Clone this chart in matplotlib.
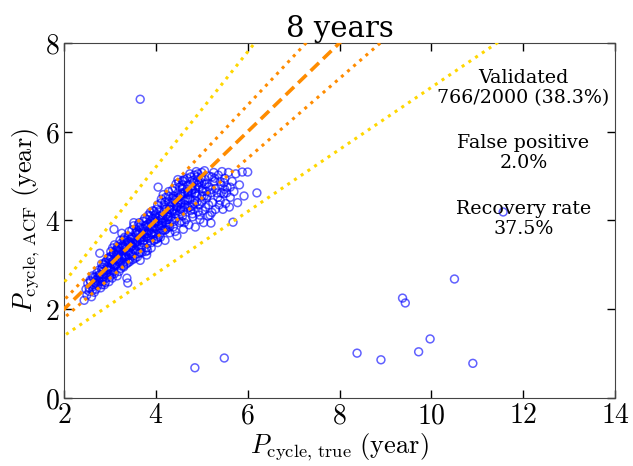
import matplotlib
matplotlib.use("Agg")
import numpy as np
import matplotlib.pyplot as plt

plt.rcParams['font.family'] = 'DejaVu Serif'
plt.rcParams['mathtext.fontset'] = 'cm'

# main cloud of validated detections
cloud_x = [2.44, 2.48, 2.50, 2.52, 2.55, 2.57, 2.60, 2.62, 2.64, 2.66,
           2.68, 2.70, 2.72, 2.74, 2.76, 2.78, 2.80, 2.82, 2.84, 2.86,
           2.88, 2.90, 2.92, 2.94, 2.96, 2.98, 3.00, 3.02, 3.04, 3.06,
           3.08, 3.09, 3.10, 3.12, 3.14, 3.16, 3.18, 3.20, 3.22, 3.24,
           3.26, 3.26, 3.28, 3.30, 3.32, 3.34, 3.36, 3.37, 3.38, 3.39,
           3.40, 3.42, 3.44, 3.46, 3.48, 3.50, 3.52, 3.54, 3.56, 3.58,
           3.60, 3.62, 3.64, 3.66, 3.68, 3.70, 3.72, 3.74, 3.76, 3.78,
           3.80, 3.82, 3.84, 3.86, 3.88, 3.90, 3.92, 3.94, 3.96, 3.98,
           4.00, 4.02, 4.04, 4.05, 4.06, 4.08, 4.10, 4.12, 4.14, 4.16,
           4.18, 4.20, 4.22, 4.24, 4.26, 4.28, 4.30, 4.32, 4.34, 4.36,
           4.38, 4.40, 4.42, 4.44, 4.46, 4.48, 4.50, 4.52, 4.54, 4.56,
           4.58, 4.60, 4.62, 4.64, 4.66, 4.68, 4.70, 4.72, 4.74, 4.76,
           4.78, 4.80, 4.82, 4.84, 4.86, 4.88, 4.90, 4.92, 4.94, 4.96,
           4.98, 5.00, 5.02, 5.04, 5.06, 5.08, 5.10, 5.12, 5.14, 5.16,
           5.18, 5.20, 5.22, 5.24, 5.26, 5.28, 5.30, 5.33, 5.36, 5.40,
           5.42, 5.44, 5.46, 5.48, 5.50, 5.52, 5.55, 5.58, 5.62, 5.66,
           5.68, 5.70, 5.74, 5.78, 5.82, 5.88, 5.92, 6.00, 6.20, 5.60,
           2.75, 2.85, 2.95, 3.05, 3.15, 3.25, 3.35, 3.45, 3.55, 3.65,
           3.75, 3.85, 3.95, 4.05, 4.15, 4.25, 4.35, 4.45, 4.55, 4.65,
           2.65, 2.80, 2.92, 3.02, 3.12, 3.22, 3.32, 3.42, 3.52, 3.62,
           3.72, 3.82, 3.92, 4.02, 4.12, 4.22, 4.32, 4.42, 4.52, 4.62,
           2.58, 2.72, 2.88, 2.98, 3.08, 3.18, 3.28, 3.38, 3.48, 3.58,
           3.68, 3.78, 3.88, 3.98, 4.08, 4.18, 4.28, 4.38, 4.48, 4.58,
           4.70, 4.80, 4.90, 5.00, 5.10, 4.75, 4.85, 4.95, 5.05, 5.15,
           3.05, 3.30, 3.55, 3.80, 4.05, 4.30, 4.55, 4.80, 3.15, 3.45,
           2.55, 2.62, 2.70, 2.78, 2.86, 2.94, 3.02, 3.10, 3.18, 3.26,
           3.34, 3.42, 3.50, 3.58, 3.66, 3.74, 3.82, 3.90, 3.98, 4.06,
           4.14, 4.22, 4.30, 4.38, 4.46, 4.54, 4.62, 4.70, 4.78, 4.86,
           2.68, 2.76, 2.84, 2.92, 3.00, 3.08, 3.16, 3.24, 3.32, 3.40,
           3.48, 3.56, 3.64, 3.72, 3.80, 3.88, 3.96, 4.04, 4.12, 4.20,
           4.28, 4.36, 4.44, 4.52, 4.60, 4.68, 4.76, 4.84, 4.92, 5.00,
           2.90, 3.00, 3.10, 3.20, 3.30, 3.40, 3.50, 3.60, 3.70, 3.80,
           3.90, 4.00, 4.10, 4.20, 4.30, 4.40, 4.50, 4.60, 4.70, 4.80,
           4.90, 5.00, 5.10, 5.20, 5.30, 5.40, 5.50, 4.95, 5.15, 5.35,
           3.00, 3.20, 3.40, 3.60, 3.80, 4.00, 4.20, 4.40, 4.60, 4.80,
           3.10, 3.30, 3.50, 3.70, 3.90, 4.10, 4.30, 4.50, 4.70, 4.90,
           2.62, 2.82, 3.02, 3.22, 3.42, 3.62, 3.82, 4.02, 4.22, 4.42,
           4.62, 4.82, 5.02, 5.22, 5.42, 5.62, 5.28, 5.48, 5.08, 4.58,
           2.70, 2.78, 2.86, 2.94, 3.02, 3.10, 3.18, 3.26, 3.34, 3.42,
           3.50, 3.58, 3.66, 3.74, 3.82, 3.90, 3.98, 4.06, 4.14, 4.22,
           4.30, 4.38, 4.46, 4.54, 4.62, 4.70, 4.78, 4.86, 4.94, 5.02,
           2.82, 2.98, 3.14, 3.30, 3.46, 3.62, 3.78, 3.94, 4.10, 4.26,
           4.42, 4.58, 4.74, 4.90, 5.06, 5.22, 5.38, 5.54, 3.06, 3.36,
           3.66, 3.96, 4.26, 4.56, 4.86, 3.20, 3.52, 3.84, 4.16, 4.48]
cloud_y = [2.20, 2.45, 2.32, 2.58, 2.40, 2.65, 2.28, 2.50, 2.72, 2.38,
           2.60, 2.45, 2.82, 2.55, 2.70, 3.26, 2.48, 2.90, 2.62, 2.78,
           2.55, 3.05, 2.70, 2.88, 3.15, 2.62, 2.95, 3.30, 2.78, 3.08,
           2.85, 3.80, 3.45, 3.00, 3.22, 2.75, 3.38, 3.10, 3.55, 2.92,
           3.25, 3.71, 3.45, 3.05, 3.62, 3.35, 3.18, 2.70, 3.50, 2.59,
           3.30, 3.75, 3.08, 3.58, 3.42, 3.20, 3.88, 3.48, 3.32, 3.68,
           3.52, 3.25, 3.95, 3.10, 3.62, 3.40, 3.82, 3.55, 4.05, 3.30,
           3.70, 3.48, 3.92, 3.60, 4.18, 3.38, 3.80, 4.05, 3.55, 3.95,
           3.70, 4.25, 3.50, 4.75, 3.88, 4.10, 3.62, 4.40, 3.95, 3.78,
           4.20, 3.55, 4.52, 3.90, 4.08, 4.65, 3.72, 4.30, 4.00, 4.50,
           3.85, 4.20, 4.72, 4.05, 3.65, 4.40, 4.85, 3.95, 4.25, 4.60,
           4.10, 3.80, 4.92, 4.35, 4.02, 4.70, 4.50, 3.90, 5.05, 4.22,
           4.62, 4.08, 4.85, 4.38, 3.85, 5.10, 4.55, 4.20, 4.75, 4.02,
           4.95, 4.42, 4.65, 3.95, 5.12, 4.30, 4.82, 4.55, 4.10, 5.00,
           4.12, 3.94, 4.70, 4.40, 5.08, 4.88, 4.25, 4.62, 5.02, 4.45,
           4.80, 5.10, 4.25, 4.60, 4.95, 4.38, 4.75, 5.08, 4.52, 4.88,
           3.96, 4.65, 5.05, 4.40, 4.80, 5.09, 4.55, 5.09, 4.62, 4.30,
           2.75, 2.85, 2.90, 3.02, 3.12, 3.18, 3.30, 3.40, 3.50, 3.60,
           3.68, 3.78, 3.85, 3.98, 4.05, 4.15, 4.22, 4.32, 4.40, 4.48,
           2.55, 2.68, 2.80, 2.88, 2.98, 3.05, 3.15, 3.22, 3.35, 3.42,
           3.50, 3.60, 3.68, 3.80, 3.88, 3.95, 4.08, 4.15, 4.20, 4.30,
           2.62, 2.68, 3.00, 3.12, 3.25, 3.32, 3.42, 3.55, 3.62, 3.78,
           3.82, 3.88, 3.98, 4.12, 4.22, 4.35, 4.42, 4.55, 4.62, 4.72,
           4.80, 4.70, 4.90, 4.85, 4.65, 4.30, 4.45, 4.35, 4.55, 4.75,
           2.70, 2.95, 3.15, 3.38, 3.62, 3.85, 3.98, 4.15, 3.35, 3.45,
           2.48, 2.42, 2.58, 2.62, 2.72, 2.82, 2.92, 2.98, 3.08, 3.15,
           3.22, 3.32, 3.42, 3.45, 3.55, 3.62, 3.70, 3.72, 3.82, 3.92,
           4.00, 4.10, 4.18, 4.25, 4.30, 4.38, 4.45, 4.58, 4.68, 4.72,
           2.72, 2.88, 2.95, 3.08, 3.18, 3.28, 3.42, 3.48, 3.55, 3.65,
           3.78, 3.72, 3.85, 3.98, 4.02, 4.10, 4.20, 4.35, 4.48, 4.42,
           4.55, 4.68, 4.82, 4.75, 4.88, 4.95, 4.98, 5.02, 5.05, 5.08,
           2.60, 2.72, 2.80, 2.85, 2.98, 3.05, 3.12, 3.18, 3.28, 3.22,
           3.50, 3.58, 3.72, 3.78, 3.92, 3.98, 4.12, 4.22, 4.28, 4.35,
           4.42, 4.55, 4.50, 4.62, 4.72, 4.88, 4.70, 4.12, 4.35, 4.52,
           3.12, 3.28, 3.52, 3.75, 3.90, 4.15, 4.30, 4.48, 4.62, 4.90,
           3.00, 3.20, 3.50, 3.70, 3.92, 4.02, 4.25, 4.52, 4.62, 4.80,
           2.75, 2.55, 3.18, 2.98, 3.12, 3.70, 3.32, 3.58, 3.80, 3.75,
           3.95, 4.25, 4.22, 4.18, 4.62, 4.75, 4.95, 4.85, 4.92, 4.90,
           2.65, 2.78, 2.80, 2.95, 3.05, 3.12, 3.20, 3.38, 3.45, 3.52,
           3.58, 3.55, 3.72, 3.75, 3.85, 3.88, 4.00, 4.05, 4.12, 4.25,
           4.32, 4.40, 4.50, 4.55, 4.60, 4.65, 4.78, 4.62, 4.85, 4.72,
           3.02, 2.78, 3.32, 3.58, 3.25, 3.90, 3.62, 4.22, 3.82, 4.02,
           4.45, 4.80, 4.48, 4.98, 4.82, 4.98, 4.35, 4.62, 3.38, 3.02,
           3.28, 3.70, 3.85, 4.30, 4.60, 3.40, 3.95, 4.12, 4.58, 4.92]

# scattered detections far from the 1:1 line
outlier_x = [3.66, 4.85, 5.49, 8.38, 8.90, 9.37, 9.43, 9.72, 9.97, 10.50, 10.90, 11.56]
outlier_y = [6.73, 0.68, 0.90, 1.01, 0.86, 2.25, 2.14, 1.04, 1.33, 2.68, 0.78, 4.19]

# reference lines: 1:1, +-10% and +-30%
line_x = [0, 15]
inner_factors = [1.1, 0.9]
outer_factors = [1.3, 0.7]

title = "8 years"
stat_text = ["Validated\n766/2000 (38.3%)", "False positive\n2.0%", "Recovery rate\n37.5%"]
stat_y = [6.98, 5.52, 4.03]
xticks = [2, 4, 6, 8, 10, 12, 14]
yticks = [0, 2, 4, 6, 8]

fig = plt.figure(figsize=(6.33, 4.66), dpi=100)
ax = fig.add_axes([0.101, 0.146, 0.871, 0.762])

ax.scatter(cloud_x + outlier_x, cloud_y + outlier_y, s=32, facecolors='none',
           edgecolors='blue', linewidths=1.1, alpha=0.62, zorder=2)

lx = np.array(line_x, dtype=float)
ax.plot(lx, lx, color='darkorange', lw=2.6, dashes=(3.2, 1.6), zorder=3)
for f in inner_factors:
    ax.plot(lx, f * lx, color='darkorange', lw=2.2, ls=':', zorder=3)
for f in outer_factors:
    ax.plot(lx, f * lx, color='gold', lw=2.2, ls=':', zorder=3)

for t, yy in zip(stat_text, stat_y):
    ax.text(12.0, yy, t, ha='center', va='center', fontsize=13.7)

ax.set_xlim(2, 14)
ax.set_ylim(0, 8)
ax.set_xticks(xticks)
ax.set_xticklabels([f'${v}$' for v in xticks], fontsize=20)
ax.set_yticks(yticks)
ax.set_yticklabels([f'${v}$' for v in yticks], fontsize=20)
ax.tick_params(direction='in', top=True, right=True, length=6, width=1, pad=3)
ax.set_xlabel(r'$P_{\rm cycle,\,true}\ {\rm (year)}$', fontsize=19, labelpad=2)
ax.set_ylabel(r'$P_{\rm cycle,\,ACF}\ {\rm (year)}$', fontsize=19, labelpad=2)
ax.set_title(title, fontsize=21, pad=4)
for sp in ax.spines.values():
    sp.set_color('#444444')

fig.savefig('out.png', dpi=100)
